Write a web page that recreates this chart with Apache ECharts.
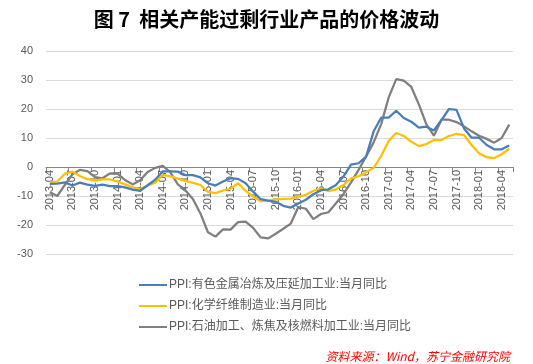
<!DOCTYPE html>
<html><head><meta charset="utf-8">
<script src="https://cdn.jsdelivr.net/npm/echarts@6/dist/echarts.min.js"></script>
<style>html,body{margin:0;padding:0;background:#fff}#c{width:533px;height:364px}</style>
</head><body><div id="c"></div>
<script>
const categories = ['2013-04','2013-05','2013-06','2013-07','2013-08','2013-09','2013-10','2013-11','2013-12',
'2014-01','2014-02','2014-03','2014-04','2014-05','2014-06','2014-07','2014-08','2014-09','2014-10','2014-11','2014-12',
'2015-01','2015-02','2015-03','2015-04','2015-05','2015-06','2015-07','2015-08','2015-09','2015-10','2015-11','2015-12',
'2016-01','2016-02','2016-03','2016-04','2016-05','2016-06','2016-07','2016-08','2016-09','2016-10','2016-11','2016-12',
'2017-01','2017-02','2017-03','2017-04','2017-05','2017-06','2017-07','2017-08','2017-09','2017-10','2017-11','2017-12',
'2018-01','2018-02','2018-03','2018-04','2018-05'];
const seriesNames = ['PPI:有色金属冶炼及压延加工业:当月同比','PPI:化学纤维制造业:当月同比','PPI:石油加工、炼焦及核燃料加工业:当月同比'];
const nonferrous = [-5.8,-5.7,-5.3,-6.4,-5.4,-6.1,-6.5,-6.1,-6.6,-6.6,-7.0,-7.8,-8.2,-6.3,-4.4,-1.5,-1.5,-1.6,-2.8,-2.8,
-3.6,-5.6,-6.4,-5.0,-3.9,-4.1,-5.6,-8.5,-11.1,-11.6,-12.0,-13.4,-14.0,-12.6,-11.3,-9.4,-8.0,-7.7,-6.2,-3.2,
0.8,1.3,3.6,12.3,17.0,17.0,19.4,16.9,15.6,13.6,13.9,12.6,16.2,20.0,19.7,13.3,10.1,10.1,7.6,6.1,6.1,7.4];
const chemFiber = [-5.3,-5.0,-2.3,-1.6,-3.1,-4.2,-4.7,-4.3,-4.3,-5.0,-6.0,-7.0,-7.6,-6.4,-5.4,-2.7,-3.2,-4.0,-4.8,-5.5,
-6.2,-8.6,-9.0,-8.1,-7.5,-5.6,-8.2,-10.2,-11.8,-11.6,-11.2,-11.0,-10.9,-10.2,-9.6,-8.2,-7.4,-8.3,-7.7,-6.2,
-3.9,-3.2,-1.8,-0.3,3.8,9.0,11.7,10.7,8.7,7.2,7.9,9.3,9.3,10.7,11.4,11.0,7.6,4.7,3.4,3.1,4.4,6.3];
const petroleum = [-8.7,-10.0,-6.2,-2.5,-1.0,-1.4,-3.5,-3.9,-2.2,-2.3,-4.5,-6.0,-4.6,-1.7,-0.3,0.4,-1.8,-6.0,-8.0,-11.0,
-16.0,-22.5,-24.0,-21.5,-21.6,-19.0,-18.8,-21.0,-24.3,-24.6,-23.0,-21.3,-19.5,-13.8,-14.4,-18.0,-16.2,-15.6,-12.5,-9.3,
-5.3,-1.0,3.6,8.5,14.8,24.0,30.3,29.8,27.6,21.6,14.7,10.8,16.3,16.3,15.5,14.0,12.3,10.8,9.7,8.4,10.0,14.6];
const yTicks = {min:-30, max:40, interval:10};
const titleText = '图 7  相关产能过剩行业产品的价格波动';
const sourceText = '资料来源：Wind，苏宁金融研究院';

const FONT = '"Liberation Sans", "Noto Sans CJK SC", sans-serif';
const colors = ['#4A7EBB','#FFC000','#7F7F7F'];
const values = [nonferrous, chemFiber, petroleum];
const gridTop = 51, gridBottom = 110, H = 364;
const plotH = H - gridTop - gridBottom;
const zeroOffset = -(0 - yTicks.min) / (yTicks.max - yTicks.min) * plotH;
const chart = echarts.init(document.getElementById('c'), null, {renderer:'canvas'});
chart.setOption({
  animation:false,
  backgroundColor:'#fff',
  title:{text:titleText,left:'center',top:4,textStyle:{fontFamily:'"Noto Sans CJK SC", sans-serif',fontSize:20,fontWeight:'bold',color:'#000'}},
  grid:{left:46,right:20,top:gridTop,bottom:gridBottom,containLabel:false},
  legend:{orient:'vertical',left:134,top:274,itemWidth:28,itemHeight:12,itemGap:9,
    icon:'path://M0,5 L28,5 L28,7 L0,7 Z',
    textStyle:{fontFamily:FONT,fontSize:12,color:'#595959',padding:[0,0,0,-3]},
    data:seriesNames},
  xAxis:{type:'category',data:categories,boundaryGap:true,position:'bottom',offset:zeroOffset,
    axisLine:{onZero:false,lineStyle:{color:'#868686',width:1}},
    axisTick:{show:true,interval:2,length:5,lineStyle:{color:'#868686'}},
    axisLabel:{interval:2,rotate:90,margin:3,fontFamily:FONT,fontSize:11,color:'#595959'},
    splitLine:{show:false}},
  yAxis:{type:'value',min:yTicks.min,max:yTicks.max,interval:yTicks.interval,
    axisLine:{show:false},axisTick:{show:false},
    axisLabel:{margin:13,fontFamily:FONT,fontSize:11,color:'#595959'},
    splitLine:{lineStyle:{color:'#D9D9D9',width:1}}},
  series: seriesNames.map((n,k)=>({name:n,type:'line',data:values[k],symbol:'none',
    lineStyle:{color:colors[k],width:2.25},itemStyle:{color:colors[k]},z:k===0?4:(k===1?3:2)})),
  graphic:[{type:'text',right:23,top:350,style:{text:sourceText,fill:'#FF0000',fontSize:12,fontStyle:'italic',fontFamily:'"Noto Sans CJK SC", sans-serif'}}]
});
</script></body></html>
